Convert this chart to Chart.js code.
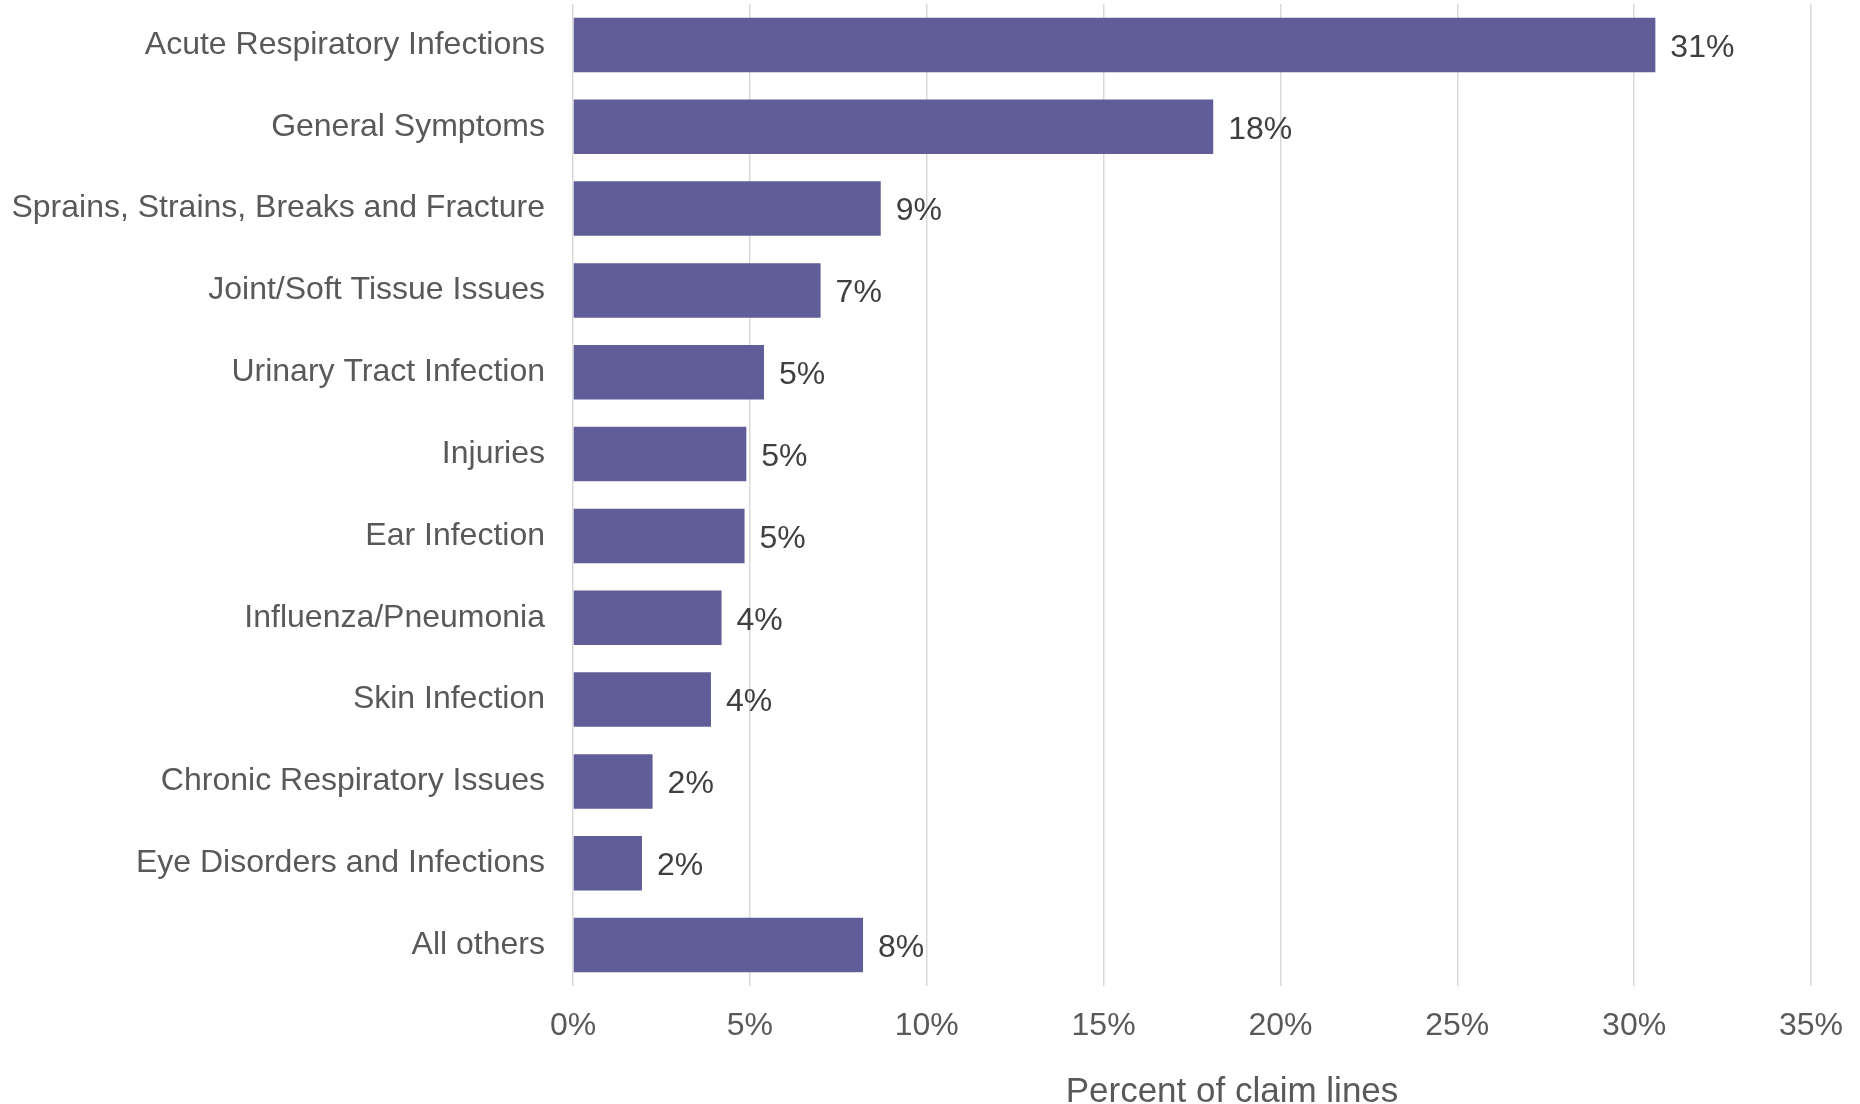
<!DOCTYPE html>
<html>
<head>
<meta charset="utf-8">
<script src="https://cdn.jsdelivr.net/npm/chart.js@4/dist/chart.umd.min.js"></script>
<style>
  html, body { margin: 0; padding: 0; background: #fff; }
  #wrap { width: 1860px; height: 1104px; }
</style>
</head>
<body>
<div id="wrap"><canvas id="claimsChart"></canvas></div>
<script>
// Diagnosis groups (top to bottom) and share of claim lines, in percent
const categories = [
    "Acute Respiratory Infections",
    "General Symptoms",
    "Sprains, Strains, Breaks and Fracture",
    "Joint/Soft Tissue Issues",
    "Urinary Tract Infection",
    "Injuries",
    "Ear Infection",
    "Influenza/Pneumonia",
    "Skin Infection",
    "Chronic Respiratory Issues",
    "Eye Disorders and Infections",
    "All others"
];
const shares = [30.6, 18.1, 8.7, 7.0, 5.4, 4.9, 4.85, 4.2, 3.9, 2.25, 1.95, 8.2];
const xTicks = [0, 5, 10, 15, 20, 25, 30, 35];
const axisTitle = "Percent of claim lines";

const fontFamily = "'Liberation Sans', Arial, sans-serif";

// Writes the rounded value to the right of each bar
const valueLabels = {
    id: "valueLabels",
    afterDatasetsDraw(chart) {
        const ctx = chart.ctx;
        const meta = chart.getDatasetMeta(0);
        ctx.save();
        ctx.font = "32px " + fontFamily;
        ctx.fillStyle = "#404040";
        ctx.textAlign = "left";
        ctx.textBaseline = "middle";
        meta.data.forEach((bar, i) => {
            ctx.fillText(Math.round(shares[i]) + "%", bar.x + 15, bar.y + 3);
        });
        ctx.restore();
    }
};

// Axis title sits a little right of the plot centre in the original
const xAxisTitle = {
    id: "xAxisTitle",
    afterDraw(chart) {
        const ctx = chart.ctx;
        const area = chart.chartArea;
        ctx.save();
        ctx.font = "35px " + fontFamily;
        ctx.fillStyle = "#595959";
        ctx.textAlign = "center";
        ctx.textBaseline = "middle";
        ctx.fillText(axisTitle, (area.left + area.right) / 2 + 40, chart.height - 12);
        ctx.restore();
    }
};

new Chart(document.getElementById("claimsChart"), {
    type: "bar",
    data: {
        labels: categories,
        datasets: [{
            data: shares,
            backgroundColor: "#615d99",
            barPercentage: 0.667,
            categoryPercentage: 1.0
        }]
    },
    options: {
        indexAxis: "y",
        responsive: true,
        maintainAspectRatio: false,
        animation: false,
        layout: { padding: { top: 4, right: 49, left: 0, bottom: 0 } },
        plugins: {
            legend: { display: false },
            tooltip: { enabled: false }
        },
        scales: {
            x: {
                min: 0,
                max: 35,
                afterBuildTicks(scale) {
                    scale.ticks = xTicks.map((v) => ({ value: v }));
                },
                afterFit(scale) {
                    scale.height = 118;
                    // right margin comes from layout padding only
                    scale.paddingLeft = 0;
                    scale.paddingRight = 0;
                },
                ticks: {
                    padding: 21,
                    color: "#595959",
                    font: { size: 32, family: fontFamily },
                    callback: (v) => v + "%"
                },
                grid: { color: "#d9d9d9", lineWidth: 1.5, drawTicks: false },
                border: { display: false }
            },
            y: {
                afterFit(scale) {
                    scale.width = 573;
                    // bars are offset inside the area, so no room is needed for half labels
                    scale.paddingTop = 0;
                    scale.paddingBottom = 0;
                },
                ticks: {
                    padding: 28,
                    color: "#595959",
                    font: { size: 32, family: fontFamily }
                },
                grid: { display: false, drawTicks: false },
                border: { display: false }
            }
        }
    },
    plugins: [valueLabels, xAxisTitle]
});
</script>
</body>
</html>
